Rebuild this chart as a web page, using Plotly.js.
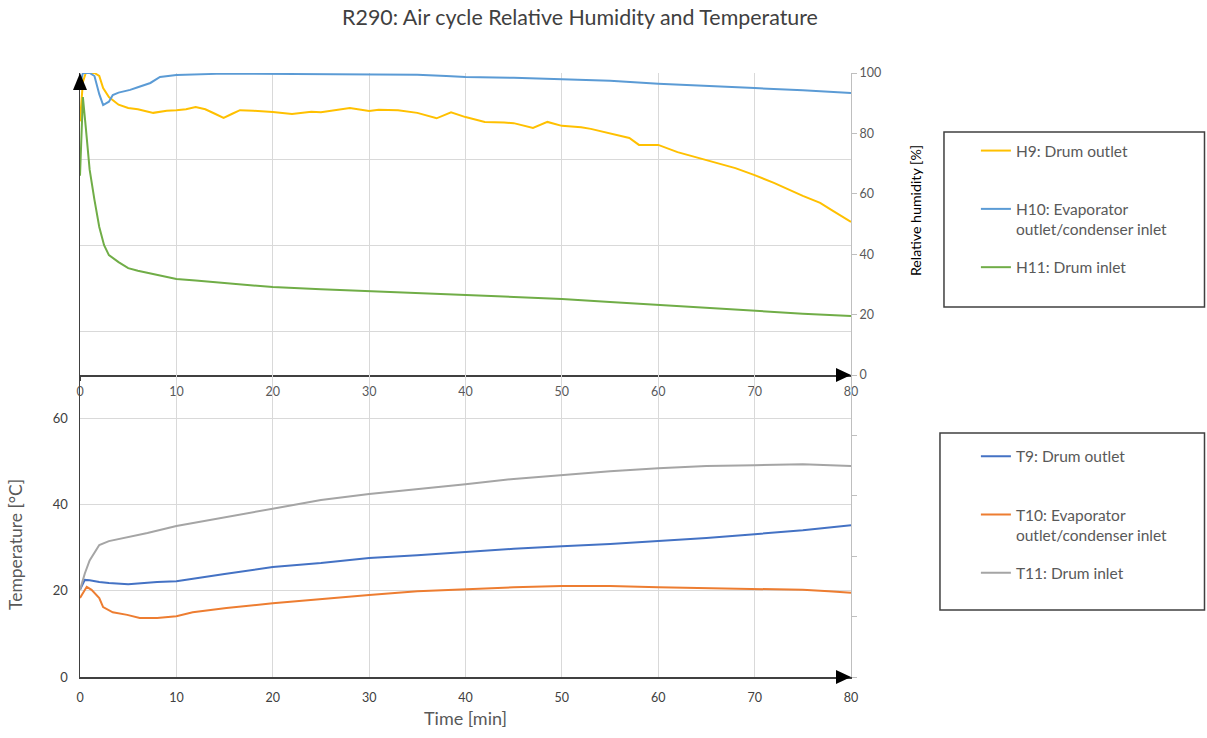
<!DOCTYPE html>
<html>
<head>
<meta charset="utf-8">
<script src="https://cdn.plot.ly/plotly-3.0.1.min.js"></script>
<style>html,body{margin:0;padding:0;background:#fff;}#chart{width:1207px;height:738px;}</style>
</head>
<body>
<div id="chart"></div>
<script>
// ---- Relative humidity series (time in min, RH in %) ----
const h9Time  = [0,0.3,0.6,1,1.5,2,2.4,3,4,5,6,7.6,9,10,11,12,13,14,14.9,15.8,16.6,18,20,22,24,25,27,28,30,31,33,35,37,38.5,40,42,44,45,47,48.5,50,52,53,55,57,58,60,62,65,68,70,72,75,76.8,78,80];
const h9Vals  = [84,97,100,100,100,99,95,92,89.5,88.4,88,86.8,87.5,87.7,88,88.7,88,86.5,85.1,86.5,87.7,87.5,87.1,86.4,87.2,87,88,88.4,87.4,87.8,87.7,86.8,85,87,85.4,83.8,83.6,83.4,81.8,83.8,82.5,82,81.5,80.1,78.5,76.2,76.2,73.8,71.2,68.5,66.2,63.6,59.3,57,54.6,50.7];

const h10Time = [0,0.3,1,1.5,2,2.4,3,3.4,4,5.2,6,7.3,8.3,9,10,15,20,25,30,35,38,40,45,50,55,60,65,70,75,80];
const h10Vals = [96,100,100,99,93,89.4,90.5,92.7,93.5,94.4,95.3,96.7,98.7,99,99.3,99.8,99.7,99.6,99.7,99.4,99,98.7,98.4,98,97.4,96.4,95.8,95,94.3,93.4];

const h11Time = [0,0.3,0.6,1,1.5,2,2.5,3,4,5,6,7,8,10,12,15,20,25,30,35,40,45,50,55,60,65,70,75,80];
const h11Vals = [66,92,82,68,58,49,43,39.7,37.4,35.4,34.5,33.8,33.2,31.8,31.3,30.5,29.1,28.4,27.8,27.2,26.5,25.9,25.2,24.2,23.2,22.2,21.2,20.3,19.5];

// ---- Temperature series (time in min, T in °C) ----
const t9Time  = [0,0.5,1,2,3,5,8,10,15,20,25,30,35,40,45,50,55,60,65,70,75,80];
const t9Vals  = [20.2,22.5,22.4,22,21.8,21.5,22,22.2,23.9,25.5,26.4,27.6,28.2,29,29.7,30.3,30.8,31.5,32.2,33.1,34,35.2];

const t10Time = [0,0.7,1.2,2,2.4,3.4,4.9,6.2,8,10,11.7,15.2,20,23.5,30,35,40,45,50,55,60,65,70,75,77.7,80];
const t10Vals = [18.3,20.9,20.2,18.3,16.2,15,14.4,13.7,13.7,14.1,15,16,17.1,17.8,19,19.9,20.4,20.8,21.1,21.1,20.8,20.6,20.4,20.2,19.9,19.5];

const t11Time = [0,0.5,1,2,3,5,7,10,15,20,25,30,35,40,45,50,55,60,65,70,75,80];
const t11Vals = [20.2,24,27,30.6,31.5,32.4,33.4,35,37,39.1,41,42.4,43.5,44.7,45.9,46.8,47.7,48.4,48.9,49.1,49.3,48.9];

// ---- Labels ----
const chartTitle = "R290: Air cycle Relative Humidity and Temperature";
const rhNames = ["H9: Drum outlet", "H10: Evaporator<br>outlet/condenser inlet", "H11: Drum inlet"];
const tNames  = ["T9: Drum outlet", "T10: Evaporator<br>outlet/condenser inlet", "T11: Drum inlet"];
const xTitle = "Time [min]";
const rhTitle = "Relative humidity [%]";
const tTitle = "Temperature [°C]";

const FONT = "Lato, 'Open Sans', sans-serif";
const GRID = "#D9D9D9";
const DARK = "#404040";
const GRAYTXT = "#595959";

function line(x, y, name, color, xa, ya, legend, grp) {
  return {x: x, y: y, name: name, type: "scatter", mode: "lines",
          line: {color: color, width: 2}, xaxis: xa, yaxis: ya,
          legend: legend, legendgroup: grp, hoverinfo: "skip"};
}
// empty placeholders so the secondary (frame/grid) axes get drawn
function holder(xa, ya) {
  return {x: [], y: [], type: "scatter", mode: "lines", xaxis: xa, yaxis: ya,
          showlegend: false, hoverinfo: "skip"};
}

const traces = [
  holder("x", "y2"),
  holder("x2", "y4"),
  line(h9Time,  h9Vals,  rhNames[0] + "<br> ", "#FFC000", "x", "y", "legend", "a"),
  line(h10Time, h10Vals, rhNames[1], "#5B9BD5", "x", "y", "legend", "b"),
  line(h11Time, h11Vals, rhNames[2], "#70AD47", "x", "y", "legend", "c"),
  line(t9Time,  t9Vals,  tNames[0] + "<br> ", "#4472C4", "x2", "y3", "legend2", "d"),
  line(t10Time, t10Vals, tNames[1], "#ED7D31", "x2", "y3", "legend2", "e"),
  line(t11Time, t11Vals, tNames[2], "#A5A5A5", "x2", "y3", "legend2", "f")
];

const legendCommon = {
  xanchor: "left", yanchor: "top", bgcolor: "rgba(0,0,0,0)", borderwidth: 0,
  font: {family: FONT, size: 15.5, color: GRAYTXT}, valign: "top",
  tracegroupgap: 15, traceorder: "grouped"
};

const layout = {
  width: 1207, height: 738,
  margin: {l: 80, r: 356, t: 73, b: 61},
  paper_bgcolor: "#ffffff", plot_bgcolor: "rgba(0,0,0,0)",
  font: {family: FONT, color: GRAYTXT},
  showlegend: true,
  title: {text: chartTitle, font: {family: FONT, size: 21.4, color: DARK},
          xref: "paper", x: 0.6485, xanchor: "center", y: 0.976, yanchor: "middle"},
  xaxis: {domain: [0, 1], anchor: "y", range: [0, 80], dtick: 10, showgrid: true, gridcolor: GRID,
          zeroline: false, showline: true, linecolor: DARK, linewidth: 1.5,
          ticks: "outside", ticklen: 4, tickcolor: DARK, tickfont: {size: 12.5, color: GRAYTXT}},
  yaxis: {domain: [0.5, 1], anchor: "x", side: "right", range: [0, 100], dtick: 20, showgrid: false,
          zeroline: false, showline: true, linecolor: "#BFBFBF", linewidth: 1,
          ticks: "outside", ticklen: 5, tickcolor: "#BFBFBF", tickfont: {size: 12.5, color: GRAYTXT}},
  yaxis2: {overlaying: "y", anchor: "x", side: "left", range: [-0.5, 3], dtick: 1, showgrid: true, gridcolor: GRID,
           zeroline: false, showticklabels: false, ticks: "", showline: true, linecolor: DARK, linewidth: 1.5},
  xaxis2: {domain: [0, 1], anchor: "y3", range: [0, 80], dtick: 10, showgrid: true, gridcolor: GRID,
           zeroline: false, showline: true, linecolor: DARK, linewidth: 1.5,
           ticks: "", ticklabelstandoff: 8, tickfont: {size: 12.5, color: DARK},
           title: {text: xTitle, font: {size: 18, color: GRAYTXT}, standoff: 9}},
  yaxis3: {domain: [0, 0.5], anchor: "x2", range: [0, 70], dtick: 20, showgrid: true, gridcolor: GRID,
           zeroline: false, showline: true, linecolor: DARK, linewidth: 1.5, ticks: "",
           ticklabelstandoff: 8, tickfont: {size: 13, color: DARK}},
  yaxis4: {overlaying: "y3", anchor: "x2", side: "right", range: [0, 70], dtick: 14, showgrid: false,
           zeroline: false, showticklabels: false, showline: true, linecolor: "#BFBFBF", linewidth: 1,
           ticks: "outside", ticklen: 5, tickcolor: "#BFBFBF"},
  legend: Object.assign({}, legendCommon, {x: 1.162, y: 0.899}),
  legend2: Object.assign({}, legendCommon, {x: 1.162, y: 0.393}),
  annotations: [
    {text: rhTitle, xref: "paper", yref: "paper", x: 1.083, y: 0.773, textangle: -90,
     showarrow: false, xanchor: "center", yanchor: "middle", font: {size: 14.2, color: "#000000"}},
    {text: tTitle, xref: "paper", yref: "paper", x: -0.0843, y: 0.2185, textangle: -90,
     showarrow: false, xanchor: "center", yanchor: "middle", font: {size: 17.5, color: GRAYTXT}}
  ],
  shapes: [
    // legend frames
    {type: "rect", xref: "paper", yref: "paper", x0: 1.1206, x1: 1.4585, y0: 0.6126, y1: 0.9023,
     line: {color: DARK, width: 1.5}, fillcolor: "rgba(0,0,0,0)"},
    {type: "rect", xref: "paper", yref: "paper", x0: 1.1154, x1: 1.4585, y0: 0.1109, y1: 0.404,
     line: {color: DARK, width: 1.5}, fillcolor: "rgba(0,0,0,0)"},
    // axis arrowheads
    {type: "path", xref: "x domain", yref: "y domain", xsizemode: "pixel", ysizemode: "pixel",
     xanchor: 0, yanchor: 1, path: "M0,0 L7,-17 L-7,-17 Z", fillcolor: "#000000", line: {width: 0}},
    {type: "path", xref: "x domain", yref: "y domain", xsizemode: "pixel", ysizemode: "pixel",
     xanchor: 1, yanchor: 0, path: "M0,0 L-15,7 L-15,-7 Z", fillcolor: "#000000", line: {width: 0}},
    {type: "path", xref: "x2 domain", yref: "y3 domain", xsizemode: "pixel", ysizemode: "pixel",
     xanchor: 1, yanchor: 0, path: "M0,0 L-15,7 L-15,-7 Z", fillcolor: "#000000", line: {width: 0}}
  ]
};

Plotly.newPlot("chart", traces, layout, {displayModeBar: false, staticPlot: true});
</script>
</body>
</html>
